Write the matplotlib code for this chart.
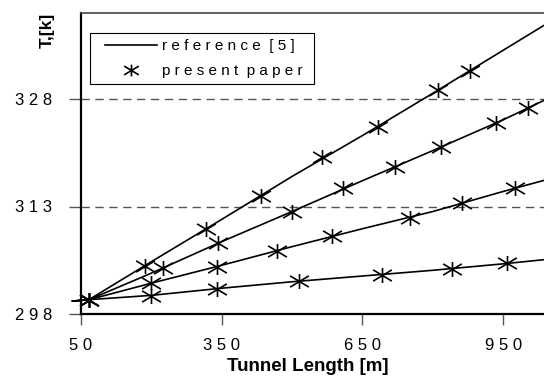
import matplotlib
matplotlib.use('Agg')
import matplotlib.pyplot as plt
from matplotlib.path import Path
from matplotlib.lines import Line2D
from matplotlib.legend_handler import HandlerLine2D

plt.rcParams['font.family'] = ['Liberation Sans', 'DejaVu Sans']

# reference [5] curves (solid lines), tunnel length in m, temperature in K
ref_len = [32, 67, 200, 350, 500, 650, 800, 950, 1040]
ref_t1 = [299.8, 300.0, 305.3, 311.2, 317.2, 322.9, 328.8, 334.8, 338.4]
ref_t2 = [299.8, 300.0, 303.7, 308.1, 312.3, 316.6, 320.8, 325.1, 327.9]
ref_t3 = [299.8, 300.0, 302.3, 304.8, 307.4, 309.9, 312.3, 315.1, 316.7]
ref_t4 = [299.8, 300.0, 300.6, 301.6, 302.5, 303.3, 304.1, 305.0, 305.6]

# present paper points (asterisks)
p1_len = [67, 186, 317, 434, 564, 683, 811, 880]
p1_t = [300.0, 304.7, 309.9, 314.5, 319.9, 324.1, 329.3, 331.9]
p2_len = [67, 225, 342, 500, 609, 720, 818, 935, 1003]
p2_t = [300.0, 304.4, 307.9, 312.2, 315.6, 318.5, 321.3, 324.6, 326.7]
p3_len = [67, 199, 340, 468, 585, 752, 863, 976]
p3_t = [300.0, 302.3, 304.6, 306.8, 308.9, 311.4, 313.5, 315.6]
p4_len = [67, 199, 340, 515, 692, 841, 959]
p4_t = [300.0, 300.5, 301.5, 302.6, 303.4, 304.3, 305.1]

x_ticks = [50, 350, 650, 950]
y_ticks = [298, 313, 328]


def spaced(s):
    # the original labels are letter-spaced
    return ' '.join(s)


# asterisk: a flat X plus a vertical bar
star = Path([(-1, -0.6), (1, 0.6), (-1, 0.6), (1, -0.6), (0, -0.8), (0, 0.8)],
            [Path.MOVETO, Path.LINETO] * 3)

fig = plt.figure(figsize=(5.44, 3.77), dpi=100)
ax = fig.add_axes([81 / 544, 63 / 377, 463 / 544, 301 / 377])

for t in [ref_t1, ref_t2, ref_t3, ref_t4]:
    ax.plot(ref_len, t, color='black', lw=1.2, clip_on=False, zorder=3)

for l, t in [(p1_len, p1_t), (p2_len, p2_t), (p3_len, p3_t), (p4_len, p4_t)]:
    ax.plot(l, t, ls='none', marker=star, ms=13.5, mew=1.2,
            mec='black', mfc='none', zorder=4, clip_on=False)

ax.set_xlim(50, 1037)
ax.set_ylim(298, 340)

for y in y_ticks[1:]:
    ax.axhline(y, color='#555555', lw=1.0, ls=(0, (6, 4)), zorder=1)

ax.set_xticks(x_ticks)
ax.set_xticklabels([spaced(str(v)) for v in x_ticks], fontsize=12)
ax.set_yticks(y_ticks)
ax.set_yticklabels([spaced(str(v)) for v in y_ticks], fontsize=12)
ax.tick_params(axis='x', direction='out', length=8, width=1, color='#555555', pad=9)
ax.tick_params(axis='y', direction='out', length=9, width=1, color='#555555', pad=12)

ax.spines['right'].set_visible(False)
ax.spines['left'].set_linewidth(1.6)
ax.spines['bottom'].set_linewidth(1.6)
ax.spines['top'].set_linewidth(1.2)
ax.spines['top'].set_color('#444444')

ax.text(0.49, -0.173, 'Tunnel Length [m]', transform=ax.transAxes,
        ha='center', va='center', fontsize=13.5, fontweight='bold')
ax.text(-0.073, 1.0, 'T,[k]', transform=ax.transAxes, rotation=90,
        ha='center', va='top', fontsize=12.5, fontweight='bold')

# legend
h_line = Line2D([], [], color='black', lw=1.2)
h_star = Line2D([], [], ls='none', marker=star, ms=13.5, mew=1.2, mec='black', mfc='none')
leg = ax.legend([h_line, h_star],
                ['r e f e r e n c e  [ 5 ] ', 'p r e s e n t  p a p e r '],
                loc='upper left', bbox_to_anchor=(9 / 463, 281 / 301),
                borderaxespad=0, fontsize=11, frameon=True, fancybox=False,
                framealpha=1, edgecolor='black', borderpad=0.41,
                labelspacing=0.7, handlelength=4.0, handletextpad=0.33,
                markerscale=0.78,
                handler_map={Line2D: HandlerLine2D(xpad=0.59)})
leg.get_frame().set_linewidth(0.8)

fig.savefig('out.png', dpi=100)
